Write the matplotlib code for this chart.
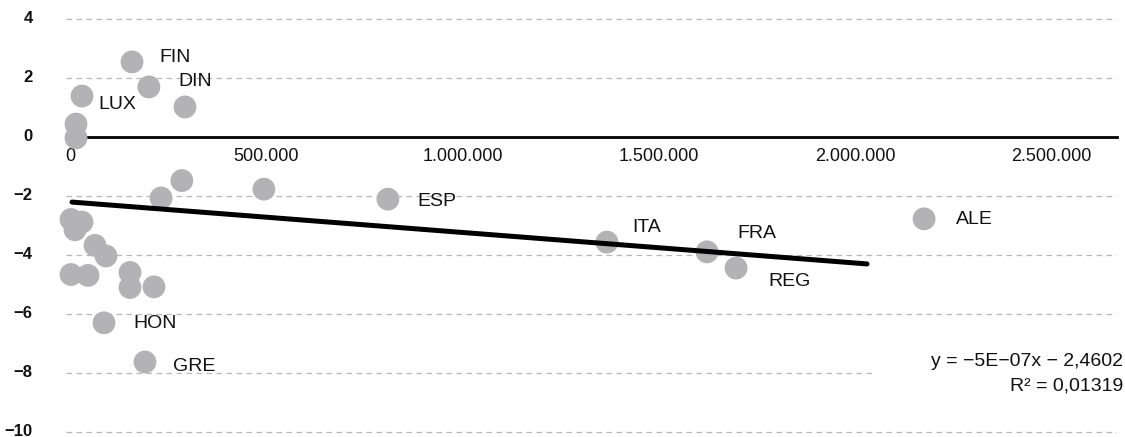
import matplotlib
matplotlib.use("Agg")
import matplotlib.pyplot as plt
from matplotlib.patches import Rectangle
from matplotlib.ticker import FixedLocator, FixedFormatter
import matplotlib.transforms as mtransforms

plt.rcParams['font.family'] = ['Liberation Sans', 'DejaVu Sans']

# ---- data (x: value, y: value) ----
gdp = [158000, 201000, 30600, 293000, 15300, 15300, 285000, 232000, 494000,
       2500, 30600, 12700, 63700, 91700, 2500, 45900, 152900, 152900, 214000,
       86600, 191000, 810000, 1368000, 1623000, 1697000, 2176000]
val = [2.55, 1.70, 1.39, 1.02, 0.44, -0.03, -1.48, -2.07, -1.77,
       -2.80, -2.89, -3.15, -3.68, -4.04, -4.67, -4.70, -4.60, -5.11, -5.09,
       -6.31, -7.64, -2.11, -3.57, -3.90, -4.45, -2.78]
names = ['FIN', 'DIN', 'LUX', '', '', '', '', '', '',
         '', '', '', '', '', '', '', '', '', '',
         'HON', 'GRE', 'ESP', 'ITA', 'FRA', 'REG', 'ALE']

trend_x = [5100, 2030600]
trend_y = [-2.21, -4.31]

xtick_values = [0, 500000, 1000000, 1500000, 2000000, 2500000]
xtick_labels = ['0', '500.000', '1.000.000', '1.500.000', '2.000.000', '2.500.000']
ytick_values = [-10, -8, -6, -4, -2, 0, 2, 4]
ytick_labels = ['\u221210', '\u22128', '\u22126', '\u22124', '\u22122', '0', '2', '4']

equation = 'y = \u22125E\u221207x \u2212 2,4602\nR\u00b2 = 0,01319'

# label offsets in pixels (layout)
label_offsets = {'FIN': (27, 4), 'DIN': (29, 5), 'LUX': (16, -8), 'ESP': (29, -2),
                 'ITA': (25, 15), 'FRA': (30, 18), 'REG': (32, -13), 'ALE': (32, -1),
                 'HON': (29, -1), 'GRE': (28, -5)}

W, H = 1125, 437
fig = plt.figure(figsize=(W / 100, H / 100), dpi=100)
ax_l, ax_r, ax_t, ax_b = 66, 1117, 10, 435
ax = fig.add_axes([ax_l / W, 1 - ax_b / H, (ax_r - ax_l) / W, (ax_b - ax_t) / H])

ax.set_xlim(-10191, 2667516)
ax.set_ylim((137 - ax_b) / 29.45, (137 - ax_t) / 29.45)

for s in ['top', 'right', 'left']:
    ax.spines[s].set_visible(False)
ax.spines['bottom'].set_position(('data', 0))
ax.spines['bottom'].set_linewidth(2.0)
ax.spines['bottom'].set_color('black')
ax.spines['bottom'].set_zorder(2)

ax.xaxis.set_major_locator(FixedLocator(xtick_values))
ax.xaxis.set_major_formatter(FixedFormatter(xtick_labels))
ax.yaxis.set_major_locator(FixedLocator(ytick_values))
ax.yaxis.set_major_formatter(FixedFormatter(ytick_labels))
ax.tick_params(axis='x', length=0, pad=8, labelsize=13, labelcolor='#111111')
ax.tick_params(axis='y', length=0, pad=24, labelsize=12, labelcolor='#111111')
shift = mtransforms.ScaledTranslation(0, 2 / 100, fig.dpi_scale_trans)
for t in ax.get_yticklabels():
    t.set_fontweight('bold')
    t.set_transform(t.get_transform() + shift)

ax.set_axisbelow(True)
ax.yaxis.grid(True, color='#b8b8b8', linewidth=0.9, linestyle=(0, (4.5, 3.5)))

# white mask behind the equation
ax.add_patch(Rectangle((0.768, 0.035), 0.25, 0.19, transform=ax.transAxes,
                       facecolor='white', edgecolor='none', zorder=1.5, clip_on=False))

ax.scatter(gdp, val, s=270, color='#b3b3b5', edgecolors='none', zorder=3, clip_on=False)
ax.plot(trend_x, trend_y, color='black', linewidth=3.6, solid_capstyle='round', zorder=4)

for x, y, n in zip(gdp, val, names):
    if n:
        dx, dy = label_offsets[n]
        ax.annotate(n, (x, y), xytext=(dx, dy), textcoords='offset pixels',
                    ha='left', va='center', fontsize=14, color='#111111', zorder=5)

fig.text(1123 / W, 1 - 374 / H, equation, ha='right', va='center', ma='right',
         fontsize=14, linespacing=1.6, color='#111111')

fig.savefig('out.png', dpi=100)
